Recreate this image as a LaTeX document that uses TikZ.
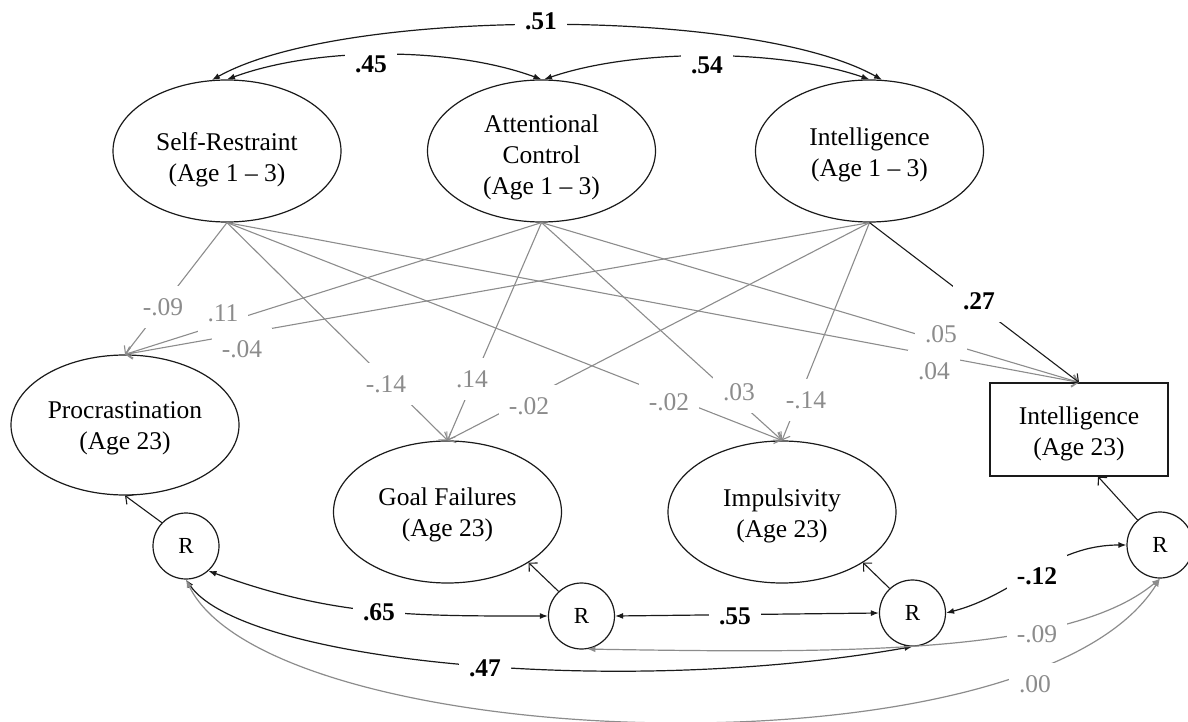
\documentclass[tikz,border=0pt]{standalone}
\usepackage{fontspec}
\setmainfont{Liberation Serif}
\usetikzlibrary{shapes.geometric,arrows.meta}
\definecolor{pgray}{HTML}{8C8C8C}
\definecolor{ink}{HTML}{1A1A1A}
\begin{document}
\begin{tikzpicture}[x=1bp,y=-1bp,
  every node/.style={font=\fontsize{25.5bp}{31bp}\selectfont},
  lat/.style={ellipse, draw=ink, line width=1.2bp, minimum width=228bp, minimum height=142bp, inner sep=0pt},
  obs/.style={rectangle, draw=ink, line width=1.2bp, minimum width=178bp, minimum height=93bp, inner sep=0pt},
  ltext/.style={align=center, inner sep=0pt},
  res/.style={circle, draw=ink, line width=1.2bp, minimum size=66bp, inner sep=0pt, font=\fontsize{23bp}{27bp}\selectfont},
  pathedge/.style={-{Straight Barb[length=6bp,width=12bp]}, line width=1.1bp, draw=pgray},
  sigpath/.style={pathedge, draw=ink},
  resedge/.style={-{Straight Barb[length=6bp,width=12bp]}, line width=1.1bp, draw=ink},
  covedge/.style={{Latex[length=8bp,width=6bp]}-{Latex[length=8bp,width=6bp]}, line width=1.2bp, draw=ink},
  nscov/.style={covedge, draw=pgray},
  lbl/.style={fill=white, inner xsep=10bp, inner ysep=12bp, text=pgray},
  blbl/.style={fill=white, inner xsep=10bp, inner ysep=12bp, text=black, font=\fontsize{25.5bp}{31bp}\selectfont\bfseries},
]
\useasboundingbox (0,0) rectangle (1188,722);

% latent predictors
\node[lat] (sr)  at (227,151)   {};
\node[lat] (ac)  at (541.5,151) {};
\node[lat] (int) at (869.5,151) {};
\node[ltext] (srt)  at (227,160)   {Self-Restraint\\(Age 1 \textendash{} 3)};
\node[ltext] (act)  at (541.5,157.5) {Attentional\\Control\\(Age 1 \textendash{} 3)};
\node[ltext] (intt) at (869.5,155) {Intelligence\\(Age 1 \textendash{} 3)};

% outcomes
\node[lat, minimum height=140bp] (proc) at (125,425) {};
\node[lat] (goal) at (447.5,512) {};
\node[lat] (imp)  at (782,512)   {};
\node[obs] (rect) at (1079,429.5) {};
\node[ltext] (proct) at (125,428)   {Procrastination\\(Age 23)};
\node[ltext] (goalt) at (447.5,515) {Goal Failures\\(Age 23)};
\node[ltext] (impt)  at (782,516)   {Impulsivity\\(Age 23)};
\node[ltext] (rectt) at (1079,433.5) {Intelligence\\(Age 23)};

% residuals
\node[res] (r1) at (186,546)   {R};
\node[res] (r2) at (581.5,616) {R};
\node[res] (r3) at (912.5,613) {R};
\node[res] (r4) at (1160,545)  {R};

% residual paths
\draw[resedge] (r1.136) -- (proc.south);
\draw[resedge] (r2.133) -- (goal.-32);
\draw[resedge] (r3.133) -- (imp.-32);
\draw[resedge] (r4.132) -- (rect.-68);

% structural paths
\draw[pathedge] (sr.south) -- (proc.north);
\draw[pathedge] (sr.south) -- (goal.north);
\draw[pathedge] (sr.south) -- (imp.north);
\draw[pathedge] (sr.south) -- (rect.north);
\draw[pathedge] (ac.south) -- (proc.north);
\draw[pathedge] (ac.south) -- (goal.north);
\draw[pathedge] (ac.south) -- (imp.north);
\draw[pathedge] (ac.south) -- (rect.north);
\draw[pathedge] (int.south) -- (proc.north);
\draw[pathedge] (int.south) -- (goal.north);
\draw[pathedge] (int.south) -- (imp.north);
\draw[sigpath]  (int.south) -- (rect.north);

% correlations among predictors
\draw[covedge] (sr.102) .. controls +(130,-73) and +(-130,-73) .. (int.80);
\draw[covedge] (sr.north) .. controls +(90,-33) and +(-90,-33) .. (ac.north);
\draw[covedge] (ac.88) .. controls +(90,-31) and +(-90,-31) .. (int.north);

% residual correlations
\draw[covedge] (r1.-48) .. controls +(126,46) and +(-134,0) .. (r2.west);
\draw[covedge] (r2.east) -- (r3.west);
\draw[covedge] (r3.east) .. controls +(72,-19) and +(-75,0) .. (r4.west);
\draw[covedge] (r1.south) .. controls +(57,82) and +(-295,52) .. (r3.south);
\draw[nscov] (r2.-80) .. controls +(250,4) and +(-92,77) .. (r4.south);
\draw[nscov] (r1.south) .. controls +(85,175) and +(-127,204) .. (r4.south);

% labels
\node[blbl] (c51) at (541,21) {.51};
\node[blbl] (c45) at (371,64) {.45};
\node[blbl] (c54) at (707,65) {.54};

\node[lbl] (p1) at (163,307) {-.09};
\node[lbl] (p2) at (223,313) {.11};
\node[lbl] (p3) at (242,349) {-.04};
\node[lbl] (p4) at (386,384) {-.14};
\node[lbl] (p5) at (472,379) {.14};
\node[lbl] (p6) at (529,406) {-.02};
\node[lbl] (p7) at (669,402) {-.02};
\node[lbl] (p8) at (739,392) {.03};
\node[lbl] (p9) at (806,400) {-.14};
\node[blbl] (p10) at (979,301) {.27};
\node[lbl] (p11) at (941,334) {.05};
\node[lbl] (p12) at (934,371) {.04};

\node[blbl] (e1) at (379,612) {.65};
\node[blbl] (e2) at (735,616) {.55};
\node[blbl] (e3) at (1037,576) {-.12};
\node[blbl] (e4) at (485,668) {.47};
\node[lbl] (e5) at (1037,634) {-.09};
\node[lbl] (e6) at (1035,684) {.00};
\end{tikzpicture}
\end{document}
